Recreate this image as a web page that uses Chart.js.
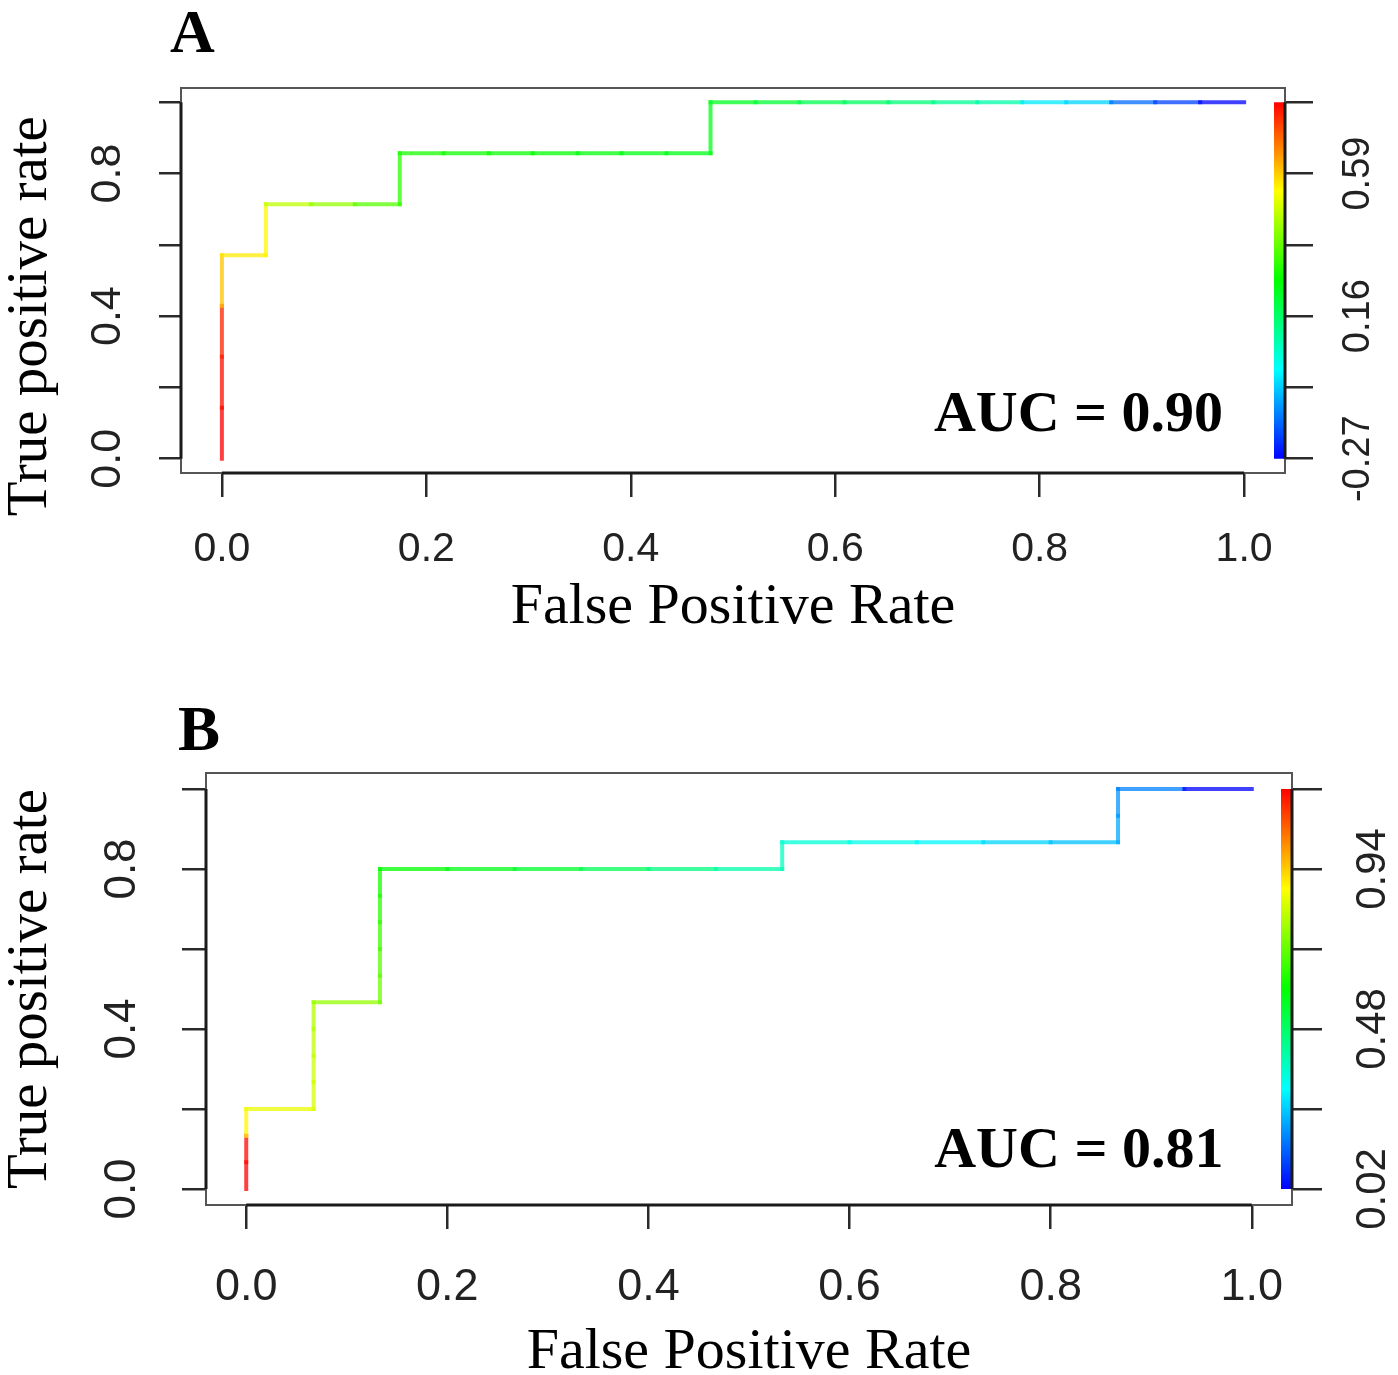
<!DOCTYPE html>
<html><head><meta charset="utf-8">
<script src="https://cdn.jsdelivr.net/npm/chart.js@4.4.1/dist/chart.umd.min.js"></script>
<style>
html,body{margin:0;padding:0;background:#fff;overflow:hidden;}
#wrap{position:relative;width:1398px;height:1375px;background:#fff;}
canvas{position:absolute;left:0;}
#cA{top:0;} #cB{top:690px;}
</style></head><body>
<div id="wrap"><canvas id="cA" width="1398" height="690"></canvas><canvas id="cB" width="1398" height="705"></canvas></div>
<script>
// ---- shared axis ticks ----
const tickValues = [0, 0.2, 0.4, 0.6, 0.8, 1.0];
const xTickLabels = ["0.0", "0.2", "0.4", "0.6", "0.8", "1.0"];
const yTickLabels = ["0.0", "", "0.4", "", "0.8", ""];

// ---- Panel A ----
const fprA = [0, 0, 0, 0, 0, 0.043, 0.043, 0.087, 0.130, 0.174, 0.174, 0.217, 0.261, 0.304, 0.348, 0.391, 0.435, 0.478, 0.478, 0.522, 0.565, 0.609, 0.652, 0.696, 0.739, 0.783, 0.826, 0.870, 0.913, 0.957, 1.000];
const tprA = [0, 0.143, 0.286, 0.429, 0.571, 0.571, 0.714, 0.714, 0.714, 0.714, 0.857, 0.857, 0.857, 0.857, 0.857, 0.857, 0.857, 0.857, 1, 1, 1, 1, 1, 1, 1, 1, 1, 1, 1, 1, 1];
const cutoffA = [Infinity, 0.805, 0.790, 0.770, 0.600, 0.559, 0.545, 0.469, 0.424, 0.357, 0.312, 0.290, 0.281, 0.276, 0.268, 0.259, 0.250, 0.245, 0.243, 0.232, 0.214, 0.187, 0.165, 0.142, 0.111, 0.088, -0.024, -0.046, -0.158, -0.203, -0.270];
const colorbarLabelsA = ["-0.27", "", "0.16", "", "0.59", ""];
const aucLabelA = "AUC = 0.90";

// ---- Panel B ----
const fprB = [0, 0, 0, 0, 0.067, 0.067, 0.067, 0.067, 0.067, 0.133, 0.133, 0.133, 0.133, 0.133, 0.133, 0.200, 0.267, 0.333, 0.400, 0.467, 0.533, 0.533, 0.600, 0.667, 0.733, 0.800, 0.867, 0.867, 0.867, 0.933, 1.000];
const tprB = [0, 0.067, 0.133, 0.200, 0.200, 0.267, 0.333, 0.400, 0.467, 0.467, 0.533, 0.600, 0.667, 0.733, 0.800, 0.800, 0.800, 0.800, 0.800, 0.800, 0.800, 0.867, 0.867, 0.867, 0.867, 0.867, 0.867, 0.933, 1.000, 1.000, 1.000];
const cutoffB = [Infinity, 1.170, 1.160, 0.892, 0.859, 0.835, 0.825, 0.811, 0.796, 0.763, 0.715, 0.691, 0.667, 0.643, 0.619, 0.595, 0.571, 0.547, 0.499, 0.451, 0.403, 0.379, 0.355, 0.331, 0.298, 0.260, 0.236, 0.212, 0.188, 0.164, 0.020];
const colorbarLabelsB = ["0.02", "", "0.48", "", "0.94", ""];
const aucLabelB = "AUC = 0.81";

function rainbow(c, lo, hi, a) {
  let t = (c - lo) / (hi - lo);
  if (!isFinite(t)) t = 1;
  t = Math.max(0, Math.min(1, t));
  return 'hsla(' + ((1 - t) * 240).toFixed(1) + ',100%,50%,' + a + ')';
}

const SERIF = '"Liberation Serif", "Times New Roman", serif';
const SANS = '"Liberation Sans", Arial, Helvetica, sans-serif';
const LINE_ALPHA = 0.75;

const deco = {
  id: 'deco',
  beforeDatasetsDraw(chart, args, o) {
    const {ctx, chartArea: a, scales} = chart;
    const x = scales.x, y = scales.y;
    const yt = y.getPixelForValue(1), yb = y.getPixelForValue(0);
    ctx.save();
    const g = ctx.createLinearGradient(0, yt, 0, yb);
    ['#ff0000', '#ffff00', '#00ff00', '#00ffff', '#0000ff'].forEach((c, i) => g.addColorStop(i / 4, c));
    ctx.fillStyle = g;
    ctx.fillRect(a.right - 11, yt, 10, yb - yt);
    ctx.strokeStyle = '#555';
    ctx.lineWidth = 2;
    ctx.strokeRect(a.left, a.top, a.right - a.left, a.bottom - a.top);
    ctx.strokeStyle = '#1a1a1a';
    ctx.lineWidth = 3;
    ctx.beginPath();
    ctx.moveTo(x.getPixelForValue(0), a.bottom); ctx.lineTo(x.getPixelForValue(1), a.bottom);
    ctx.moveTo(a.left, yb); ctx.lineTo(a.left, yt);
    ctx.moveTo(a.right, yb); ctx.lineTo(a.right, yt);
    ctx.stroke();
    ctx.restore();
  },
  afterDraw(chart, args, o) {
    const {ctx, scales} = chart;
    ctx.save();
    ctx.fillStyle = '#000';
    ctx.textBaseline = 'alphabetic';
    ctx.textAlign = 'left';
    ctx.font = 'bold ' + o.letterSize + 'px ' + SERIF;
    ctx.fillText(o.letter, o.letterX, o.letterY);
    ctx.textAlign = 'center';
    ctx.font = 'bold 58px ' + SERIF;
    ctx.fillText(o.auc, scales.x.getPixelForValue(o.aucX), scales.y.getPixelForValue(o.aucY));
    ctx.restore();
  }
};

function buildPanel(id, fpr, tpr, cutoff, cbarLabels, L) {
  const finite = cutoff.filter(Number.isFinite);
  const lo = Math.min(...finite), hi = Math.max(...finite);
  const points = fpr.map((v, i) => ({x: v, y: tpr[i]}));
  const fixTicks = s => { s.ticks = tickValues.map(v => ({value: v})); };
  const grid = len => ({display: true, drawOnChartArea: false, drawTicks: true, tickLength: len, color: '#2a2a2a', lineWidth: 2.5});
  return new Chart(document.getElementById(id), {
    type: 'line',
    data: {datasets: [{
      data: points, borderWidth: 4, pointRadius: 0, borderCapStyle: 'square', tension: 0, fill: false,
      borderColor: rainbow(hi, lo, hi, LINE_ALPHA),
      segment: {borderColor: ctx => rainbow(cutoff[ctx.p1DataIndex], lo, hi, LINE_ALPHA)}
    }]},
    options: {
      responsive: false, animation: false, events: [],
      layout: {padding: {top: L.top, left: 0, right: 0, bottom: 0}},
      plugins: {
        legend: {display: false}, tooltip: {enabled: false},
        deco: {letter: L.letter, letterX: L.letterX, letterY: L.letterY, letterSize: L.letterSize, auc: L.auc, aucX: L.aucX, aucY: L.aucY}
      },
      scales: {
        x: {
          type: 'linear', position: 'bottom', min: -0.04, max: 1.04,
          afterBuildTicks: fixTicks, afterFit: s => { s.height = L.xH; },
          grid: grid(24), border: {display: false},
          ticks: {autoSkip: false, minRotation: 0, maxRotation: 0, padding: L.xPad, color: '#222',
                  font: {family: SANS, size: L.xFont}, callback: (v, i) => xTickLabels[i]},
          title: {display: true, text: 'False Positive Rate', color: '#000',
                  font: {family: SERIF, size: 58, lineHeight: 1}, padding: {top: 0, bottom: L.xTitlePad}}
        },
        y: {
          type: 'linear', position: 'left', min: -0.04, max: 1.04,
          afterBuildTicks: fixTicks, afterFit: s => { s.width = L.yW; },
          grid: grid(L.yTick), border: {display: false},
          ticks: {autoSkip: false, minRotation: 90, maxRotation: 90, crossAlign: 'center', padding: L.yPad, color: '#222',
                  font: {family: SANS, size: L.yFont}, callback: (v, i) => yTickLabels[i]},
          title: {display: true, text: L.yTitle, color: '#000',
                  font: {family: SERIF, size: 57, lineHeight: 1}, padding: {top: 3, bottom: 0}}
        },
        y2: {
          type: 'linear', position: 'right', min: -0.04, max: 1.04,
          afterBuildTicks: fixTicks, afterFit: s => { s.width = L.y2W; },
          grid: grid(L.cTick), border: {display: false},
          ticks: {autoSkip: false, minRotation: 90, maxRotation: 90, crossAlign: 'center', padding: L.cPad, color: '#222',
                  font: {family: SANS, size: L.cFont}, callback: (v, i) => cbarLabels[i]}
        }
      }
    },
    plugins: [deco]
  });
}

buildPanel('cA', fprA, tprA, cutoffA, colorbarLabelsA, {
  top: 88, xH: 217, yW: 181, y2W: 113,
  xPad: 28, xFont: 41, xTitlePad: 53,
  yTick: 22, yPad: 21, yFont: 43, yTitle: 'True positive rate     ',
  cTick: 28, cPad: 2, cFont: 38,
  letter: 'A', letterX: 170, letterY: 52, letterSize: 62,
  auc: aucLabelA, aucX: 0.838, aucY: 0.078
});

buildPanel('cB', fprB, tprB, cutoffB, colorbarLabelsB, {
  top: 83, xH: 190, yW: 206, y2W: 106,
  xPad: 32, xFont: 45, xTitlePad: 13,
  yTick: 24, yPad: 29, yFont: 44, yTitle: 'True positive rate',
  cTick: 30, cPad: 11, cFont: 42,
  letter: 'B', letterX: 178, letterY: 60, letterSize: 63,
  auc: aucLabelB, aucX: 0.828, aucY: 0.055
});
</script>
</body></html>
